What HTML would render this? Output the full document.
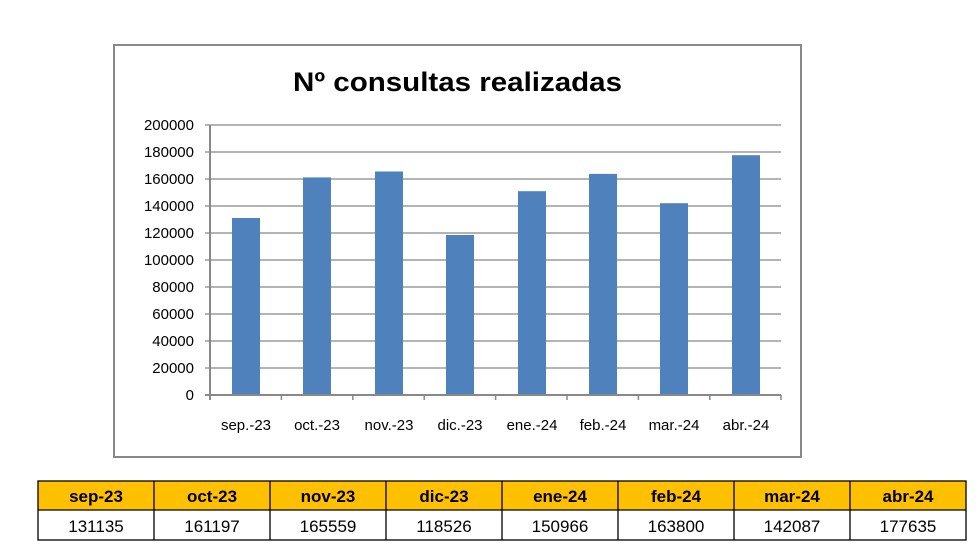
<!DOCTYPE html>
<html><head><meta charset="utf-8"><style>
body{margin:0;background:#fff;width:978px;height:555px;overflow:hidden;font-family:"Liberation Sans",sans-serif}
</style></head><body>
<svg width="978" height="555" xmlns="http://www.w3.org/2000/svg" style="position:absolute;left:0;top:0" font-family="Liberation Sans, sans-serif">
<rect x="114" y="45" width="687" height="412" fill="#fff" stroke="#888" stroke-width="2"/>
<text x="293" y="91" font-size="27" font-weight="bold" textLength="329" lengthAdjust="spacingAndGlyphs" fill="#000">Nº consultas realizadas</text>
<g stroke="#888" stroke-width="1.2">
<line x1="205" y1="125" x2="781" y2="125"/><line x1="205" y1="152" x2="781" y2="152"/>
<line x1="205" y1="179" x2="781" y2="179"/><line x1="205" y1="206" x2="781" y2="206"/>
<line x1="205" y1="233" x2="781" y2="233"/><line x1="205" y1="260" x2="781" y2="260"/>
<line x1="205" y1="287" x2="781" y2="287"/><line x1="205" y1="314" x2="781" y2="314"/>
<line x1="205" y1="341" x2="781" y2="341"/><line x1="205" y1="368" x2="781" y2="368"/>
</g>
<g fill="#4f81bd">
<rect x="232" y="218" width="28" height="177"/>
<rect x="303" y="177.4" width="28" height="217.6"/>
<rect x="375" y="171.5" width="28" height="223.5"/>
<rect x="446" y="235" width="28" height="160"/>
<rect x="518" y="191.2" width="28" height="203.8"/>
<rect x="589" y="173.9" width="28" height="221.1"/>
<rect x="660" y="203.2" width="28" height="191.8"/>
<rect x="732" y="155.2" width="28" height="239.8"/>
</g>
<g stroke="#888" stroke-width="2">
<line x1="210" y1="125" x2="210" y2="400"/>
<line x1="205" y1="395" x2="781" y2="395"/>
</g>
<g stroke="#888" stroke-width="1.5">
<line x1="281.4" y1="395" x2="281.4" y2="400"/><line x1="352.8" y1="395" x2="352.8" y2="400"/>
<line x1="424.2" y1="395" x2="424.2" y2="400"/><line x1="495.6" y1="395" x2="495.6" y2="400"/>
<line x1="567" y1="395" x2="567" y2="400"/><line x1="638.4" y1="395" x2="638.4" y2="400"/>
<line x1="709.8" y1="395" x2="709.8" y2="400"/><line x1="781" y1="395" x2="781" y2="400"/>
</g>
<g font-size="15" text-anchor="end" fill="#000">
<text x="194" y="130">200000</text><text x="194" y="157">180000</text><text x="194" y="184">160000</text>
<text x="194" y="211">140000</text><text x="194" y="238">120000</text><text x="194" y="265">100000</text>
<text x="194" y="292">80000</text><text x="194" y="319">60000</text><text x="194" y="346">40000</text>
<text x="194" y="373">20000</text><text x="194" y="400">0</text>
</g>
<g font-size="15" text-anchor="middle" fill="#000">
<text x="246" y="430">sep.-23</text><text x="317" y="430">oct.-23</text><text x="389" y="430">nov.-23</text>
<text x="460" y="430">dic.-23</text><text x="532" y="430">ene.-24</text><text x="603" y="430">feb.-24</text>
<text x="674" y="430">mar.-24</text><text x="746" y="430">abr.-24</text>
</g>
<rect x="38" y="481" width="928" height="29" fill="#ffc000"/>
<g stroke="#000" stroke-width="1.3" fill="none">
<rect x="38" y="481" width="928" height="59"/>
<line x1="38" y1="510" x2="966" y2="510"/>
<line x1="154" y1="481" x2="154" y2="540"/><line x1="270" y1="481" x2="270" y2="540"/>
<line x1="386" y1="481" x2="386" y2="540"/><line x1="502" y1="481" x2="502" y2="540"/>
<line x1="618" y1="481" x2="618" y2="540"/><line x1="734" y1="481" x2="734" y2="540"/>
<line x1="850" y1="481" x2="850" y2="540"/>
</g>
<g font-size="17" font-weight="bold" text-anchor="middle" fill="#000">
<text x="96" y="502">sep-23</text><text x="212" y="502">oct-23</text><text x="328" y="502">nov-23</text>
<text x="444" y="502">dic-23</text><text x="560" y="502">ene-24</text><text x="676" y="502">feb-24</text>
<text x="792" y="502">mar-24</text><text x="908" y="502">abr-24</text>
</g>
<g font-size="17" text-anchor="middle" fill="#000">
<text x="96" y="532">131135</text><text x="212" y="532">161197</text><text x="328" y="532">165559</text>
<text x="444" y="532">118526</text><text x="560" y="532">150966</text><text x="676" y="532">163800</text>
<text x="792" y="532">142087</text><text x="908" y="532">177635</text>
</g>
</svg>
</body></html>
